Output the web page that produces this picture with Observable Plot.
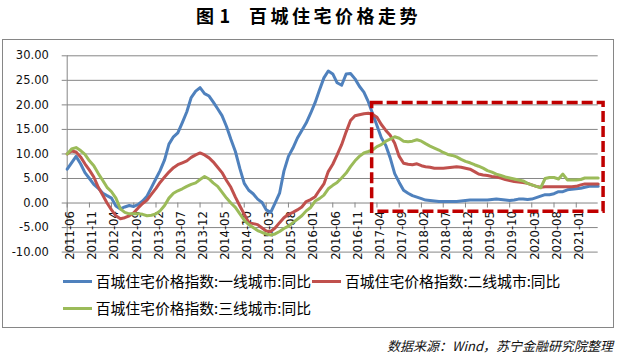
<!DOCTYPE html>
<html><head><meta charset="utf-8">
<script src="https://cdn.jsdelivr.net/npm/d3@7"></script>
<script src="https://cdn.jsdelivr.net/npm/@observablehq/plot@0.6"></script>
<style>
html,body{margin:0;padding:0;background:#fff;}
#wrap{position:relative;width:617px;height:355px;overflow:hidden;font-family:"Noto Sans CJK SC",sans-serif;}
#title{position:absolute;left:0;top:3px;width:617px;text-align:center;font-size:18px;font-weight:bold;letter-spacing:3.5px;line-height:24px;color:#000;}
#frame{position:absolute;left:2px;top:39px;width:612px;height:289px;box-sizing:border-box;border:1px solid #868686;}
#chart{position:absolute;left:0;top:39px;}
.item{position:absolute;display:flex;align-items:center;font-size:14.8px;line-height:20px;color:#000;white-space:nowrap;}
.sw{width:29px;height:3px;margin-right:4px;}
#source{position:absolute;right:4px;top:337px;font-size:13px;line-height:18px;font-style:italic;color:#111;}
</style></head>
<body>
<div id="wrap">
  <div id="title">图<span style="margin-left:2px">1</span>&nbsp;&nbsp;百城住宅价格走势</div>
  <div id="frame"></div>
  <div id="chart"></div>
  <div id="legend"></div>
  <div id="source">数据来源：Wind，苏宁金融研究院整理</div>
</div>
<script>
const seriesNames = ["百城住宅价格指数:一线城市:同比", "百城住宅价格指数:二线城市:同比", "百城住宅价格指数:三线城市:同比"];
const seriesColors = ["#4f81bd", "#c0504d", "#9bbb59"];
const startMonth = "2011-06";
const endMonth = "2021-06";

const tier1 = [
  6.9, 8.2, 9.5, 8.0, 6.2, 5.0, 3.8, 3.0, 2.0, 1.5,
  1.0, -0.6, -1.2, -0.8, -0.5, -0.7, -0.3, 0.4, 1.4, 3.2,
  5.0, 6.6, 8.8, 12.0, 13.5, 14.3, 16.4, 18.6, 21.5, 22.8,
  23.5, 22.3, 21.8, 20.6, 19.2, 17.8, 15.6, 13.0, 10.5, 7.0,
  4.0, 2.6, 1.9, 0.8, 0.1, -1.4, -1.9, 0.0, 2.0, 6.5,
  9.5, 11.2, 13.2, 14.8, 16.3, 18.3, 20.5, 23.0, 25.5, 26.9,
  26.3, 24.5, 24.0, 26.3, 26.4, 25.3, 23.8, 22.6, 20.6, 18.3,
  15.8, 13.3, 11.7, 9.2, 6.0, 4.2, 2.6, 2.0, 1.5, 1.2,
  0.9, 0.6, 0.5, 0.4, 0.3, 0.3, 0.3, 0.3, 0.3, 0.4,
  0.5, 0.6, 0.6, 0.6, 0.6, 0.6, 0.7, 0.8, 0.7, 0.6,
  0.5, 0.6, 0.8, 0.8, 0.7, 0.8, 1.1, 1.4, 1.7, 1.7,
  1.9, 2.3, 2.3, 2.7, 2.8, 2.9, 3.0, 3.2, 3.4, 3.4,
  3.4
];
const tier2 = [
  10.0, 10.6, 10.4, 9.4, 8.0, 6.7, 5.3, 3.2, 1.6, 0.0,
  -1.4, -2.6, -3.2, -3.0, -2.6, -2.0, -1.0, -0.1, 0.6, 1.8,
  3.0, 4.2, 5.3, 6.3, 7.2, 7.8, 8.2, 8.6, 9.3, 9.8,
  10.2, 9.8, 9.2, 8.4, 7.3, 6.2, 4.6, 3.2, 1.2, -0.6,
  -2.3, -4.0, -4.2, -4.4, -5.1, -5.7, -5.8, -5.1, -4.0, -3.0,
  -2.3, -1.9, -1.4, -0.8, 0.3, 0.7, 1.3, 2.6, 3.9, 6.4,
  7.9, 9.8, 11.9, 14.5, 16.8, 17.8, 18.0, 18.2, 18.3, 18.1,
  17.5, 16.0, 14.8, 13.8, 12.2, 9.5, 8.1, 7.9, 7.8, 8.0,
  7.6, 7.4, 7.3, 7.1, 7.1, 7.1, 7.2, 7.3, 7.4, 7.3,
  7.1, 6.9, 6.4, 5.9, 5.7, 5.6, 5.4, 5.3, 5.1, 4.8,
  4.6, 4.4, 4.3, 4.2, 4.0, 3.7, 3.4, 3.2, 3.3, 3.3,
  3.3, 3.3, 3.3, 3.3, 3.3, 3.4, 3.7, 3.9, 3.9, 3.9,
  3.9
];
const tier3 = [
  10.0, 11.0, 11.3, 10.7, 9.9, 8.6, 7.6, 6.0, 4.6, 3.2,
  2.3, 1.0, -1.2, -1.9, -2.2, -2.2, -2.2, -2.3, -2.6, -2.5,
  -2.2, -1.6, -0.5, 1.0, 2.0, 2.5, 2.9, 3.4, 3.8, 4.1,
  4.8, 5.4, 4.9, 4.1, 3.4, 2.2, 1.0, 0.0, -0.9, -2.2,
  -3.5, -4.4, -5.0, -5.6, -6.0, -6.3, -6.5, -6.3, -5.8, -5.2,
  -4.7, -4.0, -3.3, -2.6, -1.6, -0.9, 0.4, 0.9, 1.6, 2.9,
  3.6, 4.2, 5.1, 6.1, 7.4, 8.6, 9.5, 10.2, 10.5, 10.8,
  11.5, 11.9, 12.6, 13.0, 13.5, 13.2, 12.6, 12.5, 12.6, 12.9,
  12.6, 12.1, 11.6, 11.2, 10.8, 10.3, 9.9, 9.7, 9.4, 8.9,
  8.5, 8.2, 7.8, 7.5, 7.1, 6.6, 6.3, 5.9, 5.6, 5.3,
  5.1, 4.9, 4.7, 4.5, 4.0, 3.7, 3.4, 3.1, 5.0, 5.2,
  5.2, 4.9, 5.9, 4.7, 4.7, 4.7, 4.8, 5.1, 5.1, 5.1,
  5.1
];

const xTickLabels = ["2011-06","2011-11","2012-04","2012-09","2013-02","2013-07","2013-12","2014-05","2014-10","2015-03","2015-08","2016-01","2016-06","2016-11","2017-04","2017-09","2018-02","2018-07","2018-12","2019-05","2019-10","2020-03","2020-08","2021-01"];
const yTicks = [-10, -5, 0, 5, 10, 15, 20, 25, 30];
const boxDates = ["2017-02-27", "2021-07-08"];
const boxValues = [-1.8, 20.4];

const parseMonth = d3.utcParse("%Y-%m");
const parseDay = d3.utcParse("%Y-%m-%d");
const months = d3.utcMonth.range(parseMonth(startMonth), d3.utcMonth.offset(parseMonth(endMonth), 1));
const allSeries = [tier1, tier2, tier3];
const data = seriesNames.flatMap((name, k) => allSeries[k].map((v, i) => ({date: months[i], value: v, series: name})));

const axisFont = "DejaVu Sans";
const gridColor = "#868686";

const chart = Plot.plot({
  width: 617,
  height: 232,
  marginLeft: 66.7,
  marginRight: 19.3,
  marginTop: 16.3,
  marginBottom: 19.4,
  style: {background: "transparent", overflow: "visible"},
  x: {type: "utc", domain: [months[0], months[months.length - 1]], axis: null},
  y: {domain: [-10, 30], axis: null},
  color: {domain: seriesNames, range: seriesColors},
  marks: [
    Plot.ruleY(yTicks, {stroke: gridColor, strokeWidth: 1}),
    Plot.ruleX([months[0]], {y1: -10, y2: 30, stroke: gridColor}),
    Plot.axisY(yTicks, {label: null, tickSize: 5, tickPadding: 13.4, stroke: gridColor, fill: "#111", fontFamily: axisFont, fontSize: 11.5, tickFormat: d => d.toFixed(2)}),
    Plot.ruleX(xTickLabels, {x: d => parseMonth(d), y1: 0, y2: 0, insetBottom: -5, stroke: gridColor}),
    Plot.text(xTickLabels, {x: d => parseMonth(d), y: 0, text: d => d, rotate: -90, textAnchor: "end", dy: 8, dx: 3, fontFamily: axisFont, fontSize: 11.7, fill: "#111"}),
    Plot.line(data, {x: "date", y: "value", stroke: "series", strokeWidth: 3, strokeLinejoin: "round", strokeLinecap: "round"}),
    Plot.rect([0], {x1: parseDay(boxDates[0]), x2: parseDay(boxDates[1]), y1: boxValues[0], y2: boxValues[1], fill: "none", stroke: "#c00000", strokeWidth: 3.5, strokeDasharray: "11,4"})
  ]
});
document.getElementById("chart").appendChild(chart);

const legend = document.getElementById("legend");
const legendPos = [[62.7, 271.3], [312, 271.3], [62.7, 298.3]];
seriesNames.forEach((name, k) => {
  const item = document.createElement("div");
  item.className = "item";
  item.style.left = legendPos[k][0] + "px";
  item.style.top = legendPos[k][1] + "px";
  const sw = document.createElement("span");
  sw.className = "sw";
  sw.style.background = seriesColors[k];
  const tx = document.createElement("span");
  tx.textContent = name;
  item.appendChild(sw);
  item.appendChild(tx);
  legend.appendChild(item);
});
</script>
</body></html>
